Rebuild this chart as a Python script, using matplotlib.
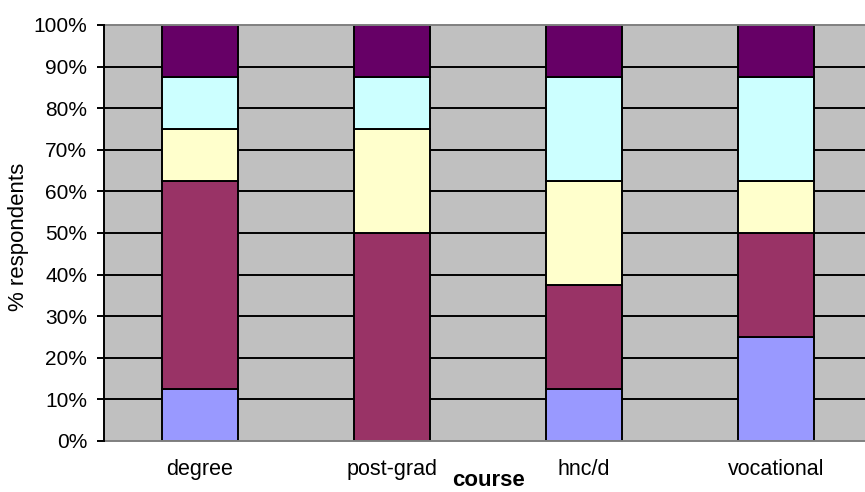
import matplotlib
matplotlib.use("Agg")
import matplotlib.pyplot as plt
import numpy as np

plt.rcParams['font.family'] = ['Liberation Sans', 'DejaVu Sans']

categories = ["degree", "post-grad", "hnc/d", "vocational"]
seg_blue = [12.5, 0.0, 12.5, 25.0]
seg_maroon = [50.0, 50.0, 25.0, 25.0]
seg_yellow = [12.5, 25.0, 25.0, 12.5]
seg_cyan = [12.5, 12.5, 25.0, 25.0]
seg_purple = [12.5, 12.5, 12.5, 12.5]
y_ticks = [0, 10, 20, 30, 40, 50, 60, 70, 80, 90, 100]

series = [seg_blue, seg_maroon, seg_yellow, seg_cyan, seg_purple]
colors = ["#9999FF", "#993366", "#FFFFCC", "#CCFFFF", "#660066"]

W, H = 865, 492
fig = plt.figure(figsize=(W / 100, H / 100), dpi=100)
left, right, top, bottom = 104, 872, 25, 441
ax = fig.add_axes([left / W, (H - bottom) / H, (right - left) / W, (bottom - top) / H])
ax.set_facecolor("#C0C0C0")

x = np.arange(len(categories))
ax.set_xlim(-0.5, len(categories) - 0.5)
ax.set_ylim(0, 100)

for yv in y_ticks[1:-1]:
    ax.axhline(yv, color="black", lw=1.4, zorder=1)

base = np.zeros(len(categories))
for vals, c in zip(series, colors):
    vals = np.array(vals)
    ax.bar(x, vals, width=0.396, bottom=base, color=c, edgecolor="black",
           linewidth=1.4, zorder=2)
    base += vals

ax.set_yticks(y_ticks)
ax.set_yticklabels([f"{v}%" for v in y_ticks], fontsize=15)
ax.set_xticks(x)
ax.set_xticklabels(categories, fontsize=15.5)
ax.tick_params(axis="x", length=0, pad=13)
ax.tick_params(axis="y", length=5, width=1.4, pad=7)

for s in ["top", "bottom"]:
    ax.spines[s].set_color("#808080")
    ax.spines[s].set_linewidth(1.4)
ax.spines["right"].set_visible(False)
ax.spines["left"].set_color("black")
ax.spines["left"].set_linewidth(1.4)
ax.spines["left"].set_zorder(3)

fig.text(19 / W, 1 - 237 / H, "% respondents", rotation=90, ha="center", va="center", fontsize=16)
fig.text(488 / W, 1.5 / H, "course", ha="center", va="bottom", fontsize=16, fontweight="bold")

fig.savefig("out.png", dpi=100)
